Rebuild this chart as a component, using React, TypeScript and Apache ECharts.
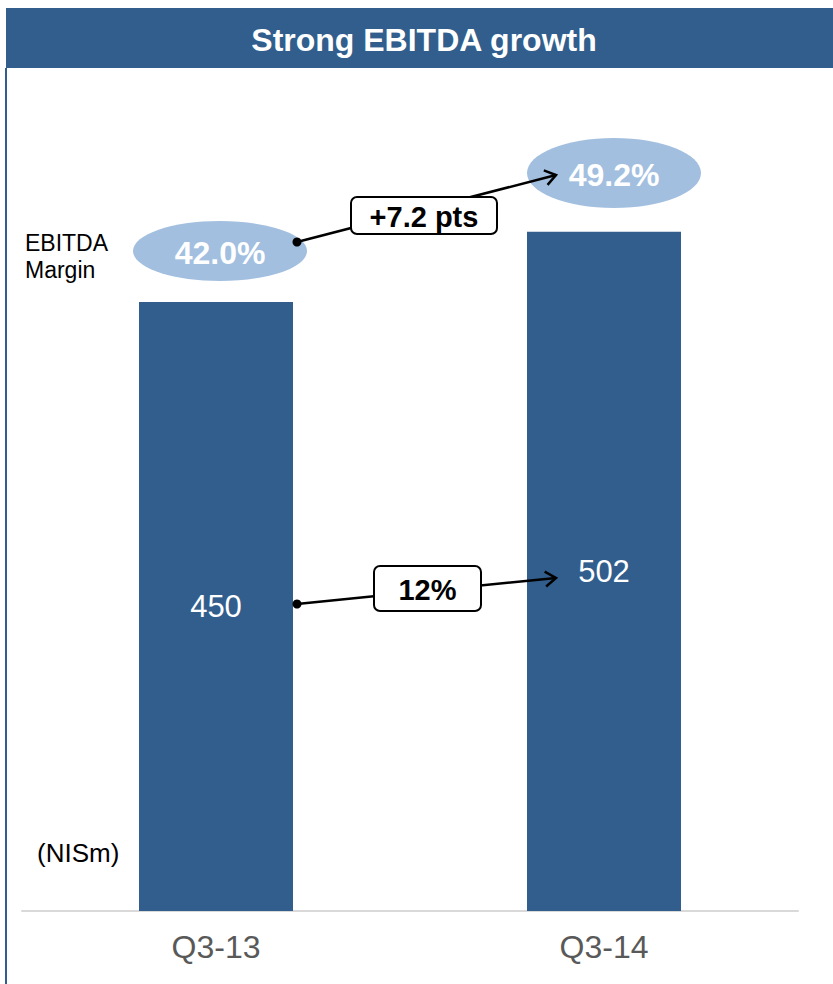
import React, { useEffect, useRef } from "react";
import * as echarts from "echarts";

const categories = ["Q3-13", "Q3-14"];
const ebitda = [450, 502];
const margins = ["42.0%", "49.2%"];
const marginChange = "+7.2 pts";
const ebitdaChange = "12%";
const title = "Strong EBITDA growth";
const unitLabel = "(NISm)";
const marginLabel = "EBITDA\nMargin";

const BLUE = "#315E8D";
const LIGHT = "#A2BFDF";
const FONT = "'Liberation Sans', Arial, sans-serif";

function arrow(x1: number, y1: number, x2: number, y2: number) {
  const dx = x2 - x1;
  const dy = y2 - y1;
  const len = Math.sqrt(dx * dx + dy * dy);
  const bx = -dx / len;
  const by = -dy / len;
  const a = (35 * Math.PI) / 180;
  const L = 13;
  const c = Math.cos(a);
  const s = Math.sin(a);
  const p1 = [x2 + L * (bx * c - by * s), y2 + L * (bx * s + by * c)];
  const p2 = [x2 + L * (bx * c + by * s), y2 + L * (-bx * s + by * c)];
  return [
    { type: "line", shape: { x1, y1, x2, y2 }, style: { stroke: "#000", lineWidth: 2.5 }, z: 10 },
    { type: "polyline", shape: { points: [p1, [x2, y2], p2] }, style: { stroke: "#000", lineWidth: 2.5, fill: null }, z: 10 },
    { type: "circle", shape: { cx: x1, cy: y1, r: 4.5 }, style: { fill: "#000" }, z: 10 },
  ];
}

function box(x: number, y: number, w: number, h: number, text: string) {
  return [
    { type: "rect", shape: { x, y, width: w, height: h, r: 6 }, style: { fill: "#fff", stroke: "#000", lineWidth: 2 }, z: 11 },
    {
      type: "text",
      x: x + w / 2,
      y: y + h / 2 + 1,
      style: { text, fill: "#000", font: `bold 29px ${FONT}`, align: "center", verticalAlign: "middle" },
      z: 12,
    },
  ];
}

function bubble(cx: number, cy: number, rx: number, ry: number, text: string) {
  return [
    { type: "ellipse", shape: { cx, cy, rx, ry }, style: { fill: LIGHT }, z: 5 },
    {
      type: "text",
      x: cx,
      y: cy + 2,
      style: { text, fill: "#fff", font: `bold 32px ${FONT}`, align: "center", verticalAlign: "middle" },
      z: 6,
    },
  ];
}

export default function App() {
  const ref = useRef<HTMLDivElement>(null);
  useEffect(() => {
    if (!ref.current) return;
    const chart = echarts.init(ref.current, null, { renderer: "svg" });
    chart.setOption({
      animation: false,
      backgroundColor: "#fff",
      grid: { left: 22, right: 35, bottom: 73, top: 99, containLabel: false },
      xAxis: {
        type: "category",
        data: categories,
        axisLine: { lineStyle: { color: "#D9D9D9", width: 2 } },
        axisTick: { show: false },
        axisLabel: { color: "#595959", fontSize: 32, fontFamily: FONT, margin: 20 },
      },
      yAxis: { type: "value", min: 0, max: 600, show: false, splitLine: { show: false } },
      series: [
        {
          type: "bar",
          data: ebitda,
          barWidth: 154,
          itemStyle: { color: BLUE },
          label: { show: true, position: "inside", color: "#fff", fontSize: 31, fontFamily: FONT },
        },
      ],
      graphic: [
        { type: "rect", shape: { x: 6, y: 8, width: 827, height: 60 }, style: { fill: BLUE }, z: 1 },
        {
          type: "text",
          x: 424,
          y: 40,
          style: { text: title, fill: "#fff", font: `bold 32px ${FONT}`, align: "center", verticalAlign: "middle" },
          z: 2,
        },
        { type: "line", shape: { x1: 6, y1: 68, x2: 6, y2: 984 }, style: { stroke: BLUE, lineWidth: 2 }, z: 1 },
        {
          type: "text",
          x: 25,
          y: 229,
          style: { text: marginLabel, fill: "#000", font: `23px ${FONT}`, lineHeight: 27, align: "left", verticalAlign: "top" },
        },
        {
          type: "text",
          x: 37,
          y: 853,
          style: { text: unitLabel, fill: "#000", font: `26px ${FONT}`, align: "left", verticalAlign: "middle" },
        },
        ...bubble(220, 251, 87, 30, margins[0]),
        ...bubble(614, 173, 87, 35, margins[1]),
        ...arrow(297, 242, 556, 175),
        ...box(351, 197, 146, 37, marginChange),
        ...arrow(297, 604, 556, 578),
        ...box(374, 566, 107, 45, ebitdaChange),
      ],
    });
    return () => chart.dispose();
  }, []);
  return (
    <div
      ref={ref}
      style={{ position: "fixed", left: 0, top: 0, width: 833, height: 984, background: "#fff" }}
    />
  );
}
